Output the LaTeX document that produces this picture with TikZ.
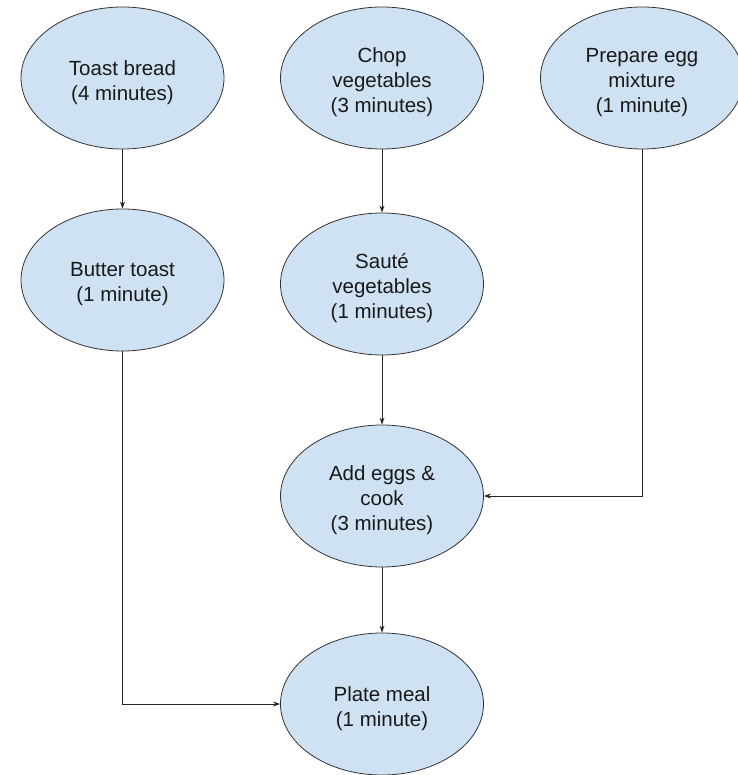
\documentclass[tikz,border=0pt]{standalone}
\usepackage{fontspec}
\setmainfont{Liberation Sans}
\usetikzlibrary{shapes.geometric,arrows.meta}
\definecolor{taskblue}{HTML}{CFE2F3}
\begin{document}
\begin{tikzpicture}[x=1pt,y=-1pt,
  task/.style={ellipse,draw=black!80,fill=taskblue,line width=0.8pt,
    minimum width=203pt,minimum height=142pt,inner sep=0pt},
  tasktext/.style={inner sep=0pt,align=center,text=black!90,
    font=\fontsize{20.5}{25}\selectfont},
  flow/.style={draw=black!85,line width=0.8pt,-{Stealth[length=7pt,width=5pt]}}]
  \useasboundingbox (0,0) rectangle (737,775);

  % task shapes
  \node[task] (toast)  at (122.5,78) {};
  \node[task] (chop)   at (382,78)   {};
  \node[task] (prep)   at (642,78)   {};
  \node[task] (butter) at (122.5,280) {};
  \node[task] (saute)  at (382,284)  {};
  \node[task] (cook)   at (382,496)  {};
  \node[task] (plate)  at (382,704)  {};

  % task labels, set a little below the centre
  \node[tasktext] (toast-t)  at ([yshift=-4.5pt]toast.center)  {Toast bread\\(4 minutes)};
  \node[tasktext] (chop-t)   at ([yshift=-4.5pt]chop.center)   {Chop\\vegetables\\(3 minutes)};
  \node[tasktext] (prep-t)   at ([yshift=-4.5pt]prep.center)   {Prepare egg\\mixture\\(1 minute)};
  \node[tasktext] (butter-t) at ([yshift=-4.5pt]butter.center) {Butter toast\\(1 minute)};
  \node[tasktext] (saute-t)  at ([yshift=-4.5pt]saute.center)  {Sauté\\vegetables\\(1 minutes)};
  \node[tasktext] (cook-t)   at ([yshift=-4.5pt]cook.center)   {Add eggs \&\\cook\\(3 minutes)};
  \node[tasktext] (plate-t)  at ([yshift=-4.5pt]plate.center)  {Plate meal\\(1 minute)};

  % dependencies
  \draw[flow] (toast) -- (butter);
  \draw[flow] (chop) -- (saute);
  \draw[flow] (saute) -- (cook);
  \draw[flow] (cook) -- (plate);
  \draw[flow] (prep.south) |- (cook.east);
  \draw[flow] (butter.south) |- (plate.west);
\end{tikzpicture}
\end{document}
